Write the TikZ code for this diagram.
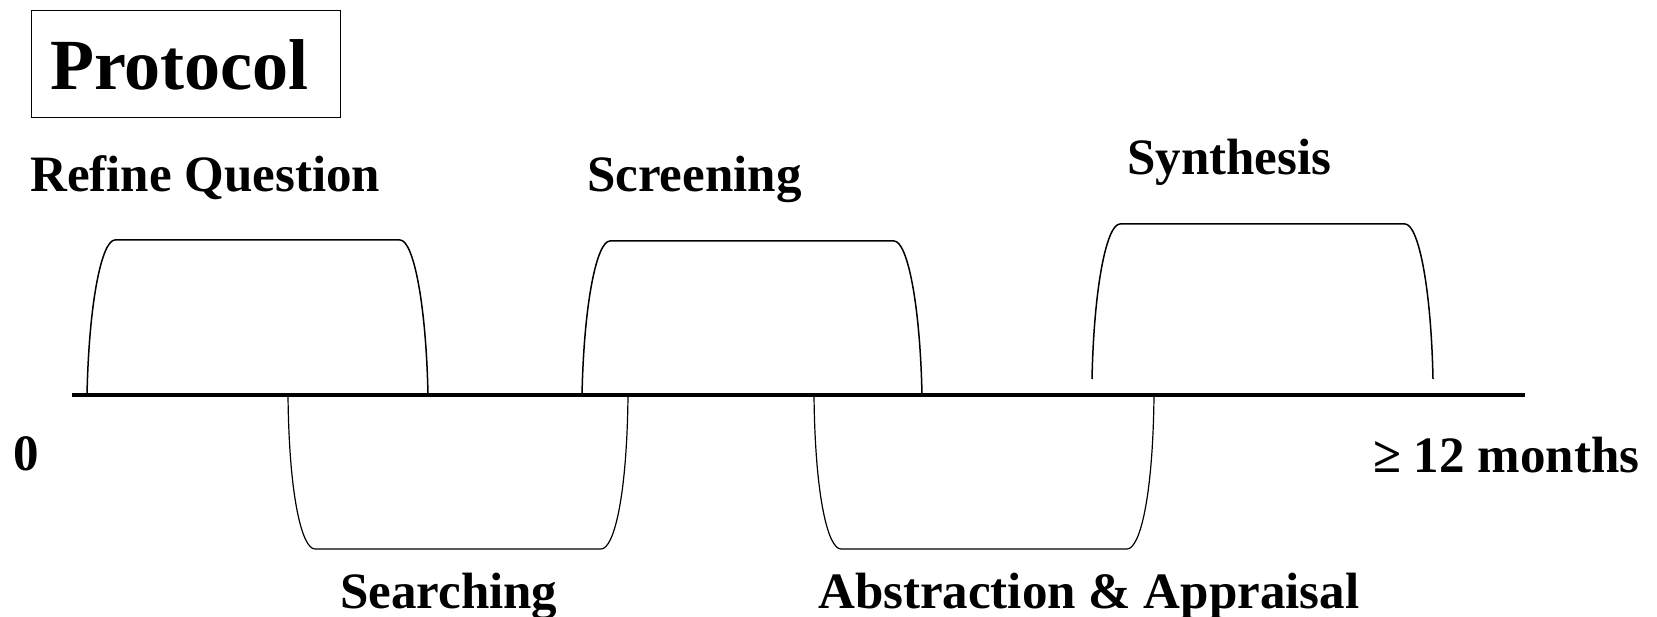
\documentclass[tikz,border=0pt]{standalone}
\usepackage{fontspec}
\setmainfont{Liberation Serif}
\newcommand{\humpup}[4]{% x1, x2, ytop, ybase
  \draw[humpline] (#1,#4) .. controls ({#1+2},{#4-0.61*(#4-#3)}) and ({#1+15},#3) .. ({#1+28},#3)
    -- ({#2-28},#3) .. controls ({#2-15},#3) and ({#2-2},{#4-0.61*(#4-#3)}) .. (#2,#4);}
\newcommand{\humpdown}[4]{% x1, x2, ybase, ybottom
  \draw[humplinethin] (#1,#3) .. controls ({#1+1},{#3+0.66*(#4-#3)}) and ({#1+14},#4) .. ({#1+27},#4)
    -- ({#2-27},#4) .. controls ({#2-14},#4) and ({#2-1},{#3+0.66*(#4-#3)}) .. (#2,#3);}
\begin{document}
\begin{tikzpicture}[x=1pt,y=-1pt,
  humpline/.style={line width=1.5pt},
  humplinethin/.style={line width=1.2pt},
  axisline/.style={line width=4pt},
  lbl/.style={anchor=base west,inner sep=0pt,font=\bfseries\fontsize{51}{60}\selectfont},
  ttl/.style={anchor=base west,inner sep=0pt,font=\bfseries\fontsize{72}{80}\selectfont},
  ttlbox/.style={draw,line width=1.3pt,anchor=north west,inner sep=0pt}]
\useasboundingbox (0,0) rectangle (1657,617);
% title
\node[ttlbox,minimum width=309pt,minimum height=107pt] (titlebox) at (31,10) {};
\node[ttl] (title) at (50,90) {Protocol};
% humps above
\humpup{87}{428}{240}{395}
\humpup{582}{922}{241}{395}
\humpup{1092}{1433}{224}{379}
% humps below
\humpdown{288}{628}{395}{549}
\humpdown{814}{1154}{395}{549}
% axis
\coordinate (axL) at (72,395);
\coordinate (axR) at (1525,395);
\draw[axisline] (axL) -- (axR);
% labels
\node[lbl] (refine) at (30,192) {Refine Question};
\node[lbl] (screen) at (587,192) {Screening};
\node[lbl] (synth) at (1127,175) {Synthesis};
\node[lbl] (search) at (340,608) {Searching};
\node[lbl] (abstr) at (818,608) {Abstraction \& Appraisal};
\node[lbl] (zero) at (13,470) {0};
\node[lbl] (months) at (1373,472) {≥ 12 months};
\end{tikzpicture}
\end{document}
